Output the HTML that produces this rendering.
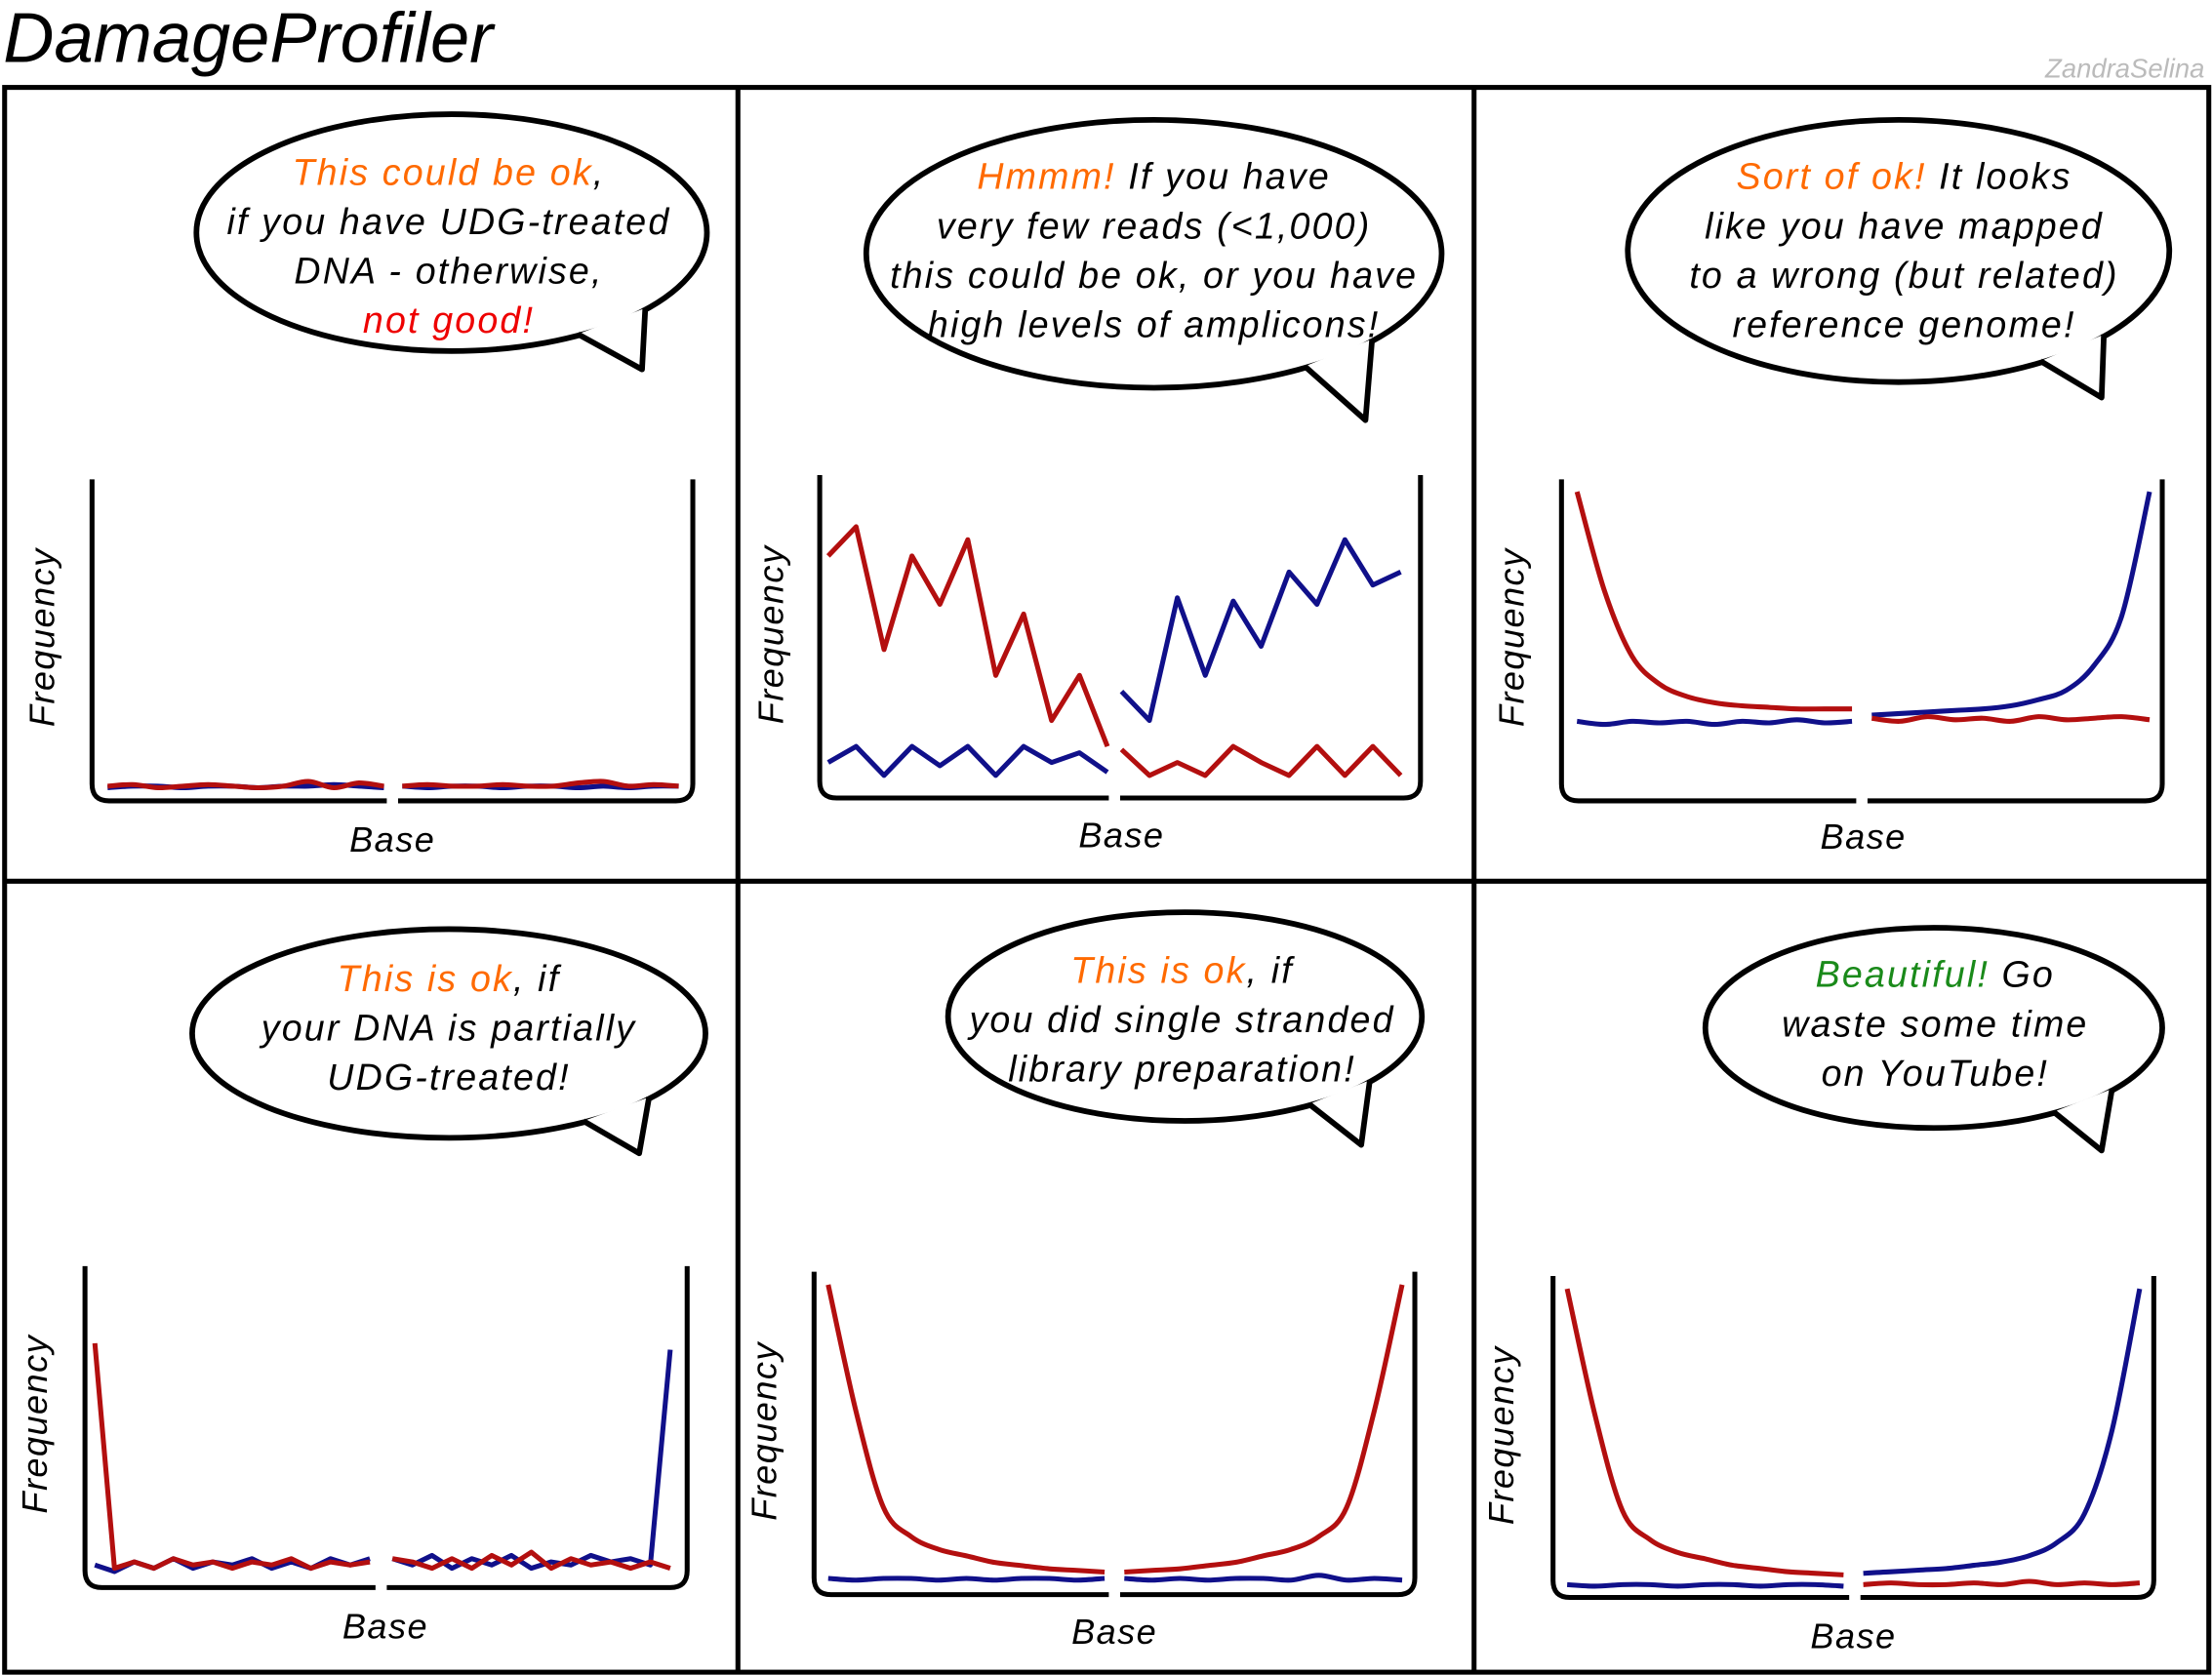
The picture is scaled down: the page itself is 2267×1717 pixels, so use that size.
<!DOCTYPE html>
<html><head><meta charset="utf-8"><style>
html,body{margin:0;padding:0;background:#fff}
svg{display:block}
text{font-family:"Liberation Sans","DejaVu Sans",sans-serif;font-style:italic}
</style></head><body>
<svg id="s" width="2267" height="1717" viewBox="0 0 1568 1188">
<text x="2" y="44" font-size="50" fill="#000">DamageProfiler</text>
<text x="1563" y="55" font-size="19" fill="#bbb" text-anchor="end">ZandraSelina</text>
<g stroke="#000" stroke-width="3.5" fill="none">
<rect x="3" y="62" width="1563" height="1124"/>
<line x1="523" y1="62" x2="523" y2="1186"/>
<line x1="1045" y1="62" x2="1045" y2="1186"/>
<line x1="3" y1="625" x2="1566" y2="625"/>
</g>
<g id="charts"></g>
</svg>
<script>
// Panel data (frequency fraction 0..1), left half and right half
const p1RedL=[0.02,0.025,0.015,0.02,0.025,0.02,0.015,0.02,0.035,0.015,0.03,0.02];
const p1BlueL=[0.015,0.02,0.02,0.015,0.02,0.02,0.015,0.02,0.02,0.025,0.02,0.015];
const p1RedR=[0.02,0.025,0.02,0.02,0.025,0.02,0.02,0.03,0.035,0.02,0.025,0.02];
const p1BlueR=[0.02,0.015,0.02,0.02,0.015,0.02,0.02,0.015,0.02,0.015,0.02,0.02];
const p2RedL=[0.75,0.84,0.46,0.75,0.60,0.80,0.38,0.57,0.24,0.38,0.16];
const p2BlueL=[0.11,0.16,0.07,0.16,0.10,0.16,0.07,0.16,0.11,0.14,0.08];
const p2RedR=[0.15,0.07,0.11,0.07,0.16,0.11,0.07,0.16,0.07,0.16,0.07];
const p2BlueR=[0.33,0.24,0.62,0.38,0.61,0.47,0.70,0.60,0.80,0.66,0.70];
const p3RedL=[0.96,0.64,0.43,0.34,0.30,0.28,0.27,0.265,0.26,0.26,0.26];
const p3BlueL=[0.22,0.21,0.22,0.215,0.22,0.21,0.22,0.215,0.225,0.215,0.22];
const p3RedR=[0.23,0.22,0.235,0.225,0.23,0.22,0.235,0.225,0.23,0.235,0.225];
const p3BlueR=[0.24,0.245,0.25,0.255,0.26,0.27,0.29,0.32,0.40,0.56,0.96];
const p4RedL=[0.76,0.06,0.08,0.06,0.09,0.07,0.08,0.06,0.08,0.07,0.09,0.06,0.08,0.07,0.08];
const p4BlueL=[0.07,0.05,0.08,0.06,0.09,0.06,0.08,0.07,0.09,0.06,0.08,0.06,0.09,0.07,0.09];
const p4RedR=[0.09,0.08,0.06,0.09,0.06,0.10,0.07,0.11,0.06,0.09,0.07,0.08,0.06,0.08,0.06];
const p4BlueR=[0.09,0.07,0.10,0.06,0.09,0.07,0.10,0.06,0.08,0.07,0.10,0.08,0.09,0.07,0.74];
const p5RedL=[0.96,0.57,0.27,0.18,0.14,0.12,0.10,0.09,0.08,0.075,0.07];
const p5BlueL=[0.05,0.045,0.05,0.05,0.045,0.05,0.045,0.05,0.05,0.045,0.05];
const p5RedR=[0.07,0.075,0.08,0.09,0.10,0.12,0.14,0.18,0.27,0.57,0.96];
const p5BlueR=[0.05,0.045,0.05,0.045,0.05,0.05,0.045,0.06,0.045,0.05,0.045];
const p6RedL=[0.96,0.57,0.27,0.18,0.14,0.12,0.10,0.09,0.08,0.075,0.07];
const p6BlueL=[0.04,0.035,0.04,0.04,0.035,0.04,0.04,0.035,0.04,0.04,0.035];
const p6RedR=[0.04,0.045,0.04,0.04,0.045,0.04,0.05,0.04,0.045,0.04,0.045];
const p6BlueR=[0.075,0.08,0.085,0.09,0.10,0.11,0.13,0.17,0.26,0.52,0.96];

const panels=[
 {ax:65,bx:491,top:340,bot:568,z:562,one:340,l0:76,l1:272,r0:285,r1:481,gap:278,smooth:true,d:[p1RedL,p1BlueL,p1RedR,p1BlueR],fx:38,fy:452,bx2:278,by:604},
 {ax:581,bx:1007,top:337,bot:566,z:566,one:337,l0:587,l1:785,r0:795,r1:993,gap:790,smooth:false,d:[p2RedL,p2BlueL,p2RedR,p2BlueR],fx:555,fy:450,bx2:795,by:601},
 {ax:1107,bx:1533,top:340,bot:568,z:560,one:340,l0:1118,l1:1313,r0:1327,r1:1524,gap:1320,smooth:true,d:[p3RedL,p3BlueL,p3RedR,p3BlueR],fx:1080,fy:452,bx2:1321,by:602},
 {ax:60,bx:487,top:898,bot:1126,z:1126,one:898,l0:67,l1:262,r0:278,r1:475,gap:270,smooth:false,d:[p4RedL,p4BlueL,p4RedR,p4BlueR],fx:33,fy:1010,bx2:273,by:1162},
 {ax:577,bx:1003,top:902,bot:1131,z:1131,one:902,l0:587,l1:783,r0:797,r1:994,gap:790,smooth:true,d:[p5RedL,p5BlueL,p5RedR,p5BlueR],fx:550,fy:1015,bx2:790,by:1166},
 {ax:1101,bx:1527,top:905,bot:1133,z:1133,one:905,l0:1111,l1:1307,r0:1321,r1:1517,gap:1315,smooth:true,d:[p6RedL,p6BlueL,p6RedR,p6BlueR],fx:1073,fy:1018,bx2:1314,by:1169}
];
const bubbles=[
 {cx:320,cy:165,rx:181,ry:84,tip:[455,262],t1:40,t2:60,ty:131,tx:318,lines:[[["This could be ok","#ff6a00"],[",","#000"]],[["if you have UDG-treated","#000"]],[["DNA - otherwise,","#000"]],[["not good!","#ee0000"]]]},
 {cx:818,cy:180,rx:204,ry:95,tip:[968,298],t1:40,t2:58,ty:134,tx:818,lines:[[["Hmmm!","#ff6a00"],[" If you have","#000"]],[["very few reads (<1,000)","#000"]],[["this could be ok, or you have","#000"]],[["high levels of amplicons!","#000"]]]},
 {cx:1346,cy:178,rx:192,ry:93,tip:[1490,282],t1:40,t2:58,ty:134,tx:1350,lines:[[["Sort of ok!","#ff6a00"],[" It looks","#000"]],[["like you have mapped","#000"]],[["to a wrong (but related)","#000"]],[["reference genome!","#000"]]]},
 {cx:318,cy:733,rx:182,ry:74,tip:[453,818],t1:38,t2:58,ty:703,tx:318,lines:[[["This is ok","#ff6a00"],[", if","#000"]],[["your DNA is partially","#000"]],[["UDG-treated!","#000"]]]},
 {cx:840,cy:721,rx:168,ry:74,tip:[965,812],t1:38,t2:58,ty:697,tx:838,lines:[[["This is ok","#ff6a00"],[", if","#000"]],[["you did single stranded","#000"]],[["library preparation!","#000"]]]},
 {cx:1371,cy:729,rx:162,ry:71,tip:[1490,816],t1:38,t2:58,ty:700,tx:1372,lines:[[["Beautiful!","#1a8a1a"],[" Go","#000"]],[["waste some time","#000"]],[["on YouTube!","#000"]]]}
];
const NS="http://www.w3.org/2000/svg";
const g=document.getElementById('charts');
function mk(t,attrs,parent){const e=document.createElementNS(NS,t);for(const k in attrs)e.setAttribute(k,attrs[k]);(parent||g).appendChild(e);return e;}
function pathFor(pts,smooth){
 let d="M"+pts[0][0].toFixed(1)+","+pts[0][1].toFixed(1);
 if(!smooth){for(let i=1;i<pts.length;i++)d+=" L"+pts[i][0].toFixed(1)+","+pts[i][1].toFixed(1);return d;}
 for(let i=0;i<pts.length-1;i++){
  const p0=pts[Math.max(0,i-1)],p1=pts[i],p2=pts[i+1],p3=pts[Math.min(pts.length-1,i+2)];
  const c1=[p1[0]+(p2[0]-p0[0])/6,p1[1]+(p2[1]-p0[1])/6],c2=[p2[0]-(p3[0]-p1[0])/6,p2[1]-(p3[1]-p1[1])/6];
  d+=` C${c1[0].toFixed(1)},${c1[1].toFixed(1)} ${c2[0].toFixed(1)},${c2[1].toFixed(1)} ${p2[0].toFixed(1)},${p2[1].toFixed(1)}`;
 }
 return d;
}
panels.forEach((p,i)=>{
 const pg=mk('g',{});
 
 
 const yS=v=>p.z-v*(p.z-p.one);
 const xL=(k,n)=>p.l0+k*(p.l1-p.l0)/(n-1);
 const xR=(k,n)=>p.r0+k*(p.r1-p.r0)/(n-1);
 const r=12;
 const axis=mk('path',{d:`M${p.ax},${p.top} L${p.ax},${p.bot-r} Q${p.ax},${p.bot} ${p.ax+r},${p.bot} L${p.gap-4},${p.bot} M${p.gap+4},${p.bot} L${p.bx-r},${p.bot} Q${p.bx},${p.bot} ${p.bx},${p.bot-r} L${p.bx},${p.top}`,fill:'none',stroke:'#000','stroke-width':3.5},pg);
 
 
 const series=[[p.d[1],xL,'#10108a','blue-left'],[p.d[0],xL,'#b30f0f','red-left'],[p.d[3],xR,'#10108a','blue-right'],[p.d[2],xR,'#b30f0f','red-right']];
 series.forEach(s=>{
  const arr=s[0],n=arr.length;
  const pts=arr.map((v,k)=>[s[1](k,n),yS(v)]);
  const el=mk('path',{d:pathFor(pts,p.smooth),fill:'none',stroke:s[2],'stroke-width':3.5,'stroke-linejoin':'round'},pg);
  
  
 });
 const fq=mk('text',{x:p.fx,y:p.fy,'font-size':25,'text-anchor':'middle',transform:`rotate(-90 ${p.fx} ${p.fy})`,'letter-spacing':1},pg);
 fq.textContent='Frequency';
 
 
 const bs=mk('text',{x:p.bx2,y:p.by,'font-size':25,'text-anchor':'middle','letter-spacing':1},pg);
 bs.textContent='Base';
 
 
});
bubbles.forEach((b,i)=>{
 const bg=mk('g',{});
 
 
 const ep=(t,f)=>{const a=t*Math.PI/180;return [b.cx+b.rx*f*Math.cos(a),b.cy+b.ry*f*Math.sin(a)];};
 mk('ellipse',{cx:b.cx,cy:b.cy,rx:b.rx,ry:b.ry,fill:'#fff',stroke:'#000','stroke-width':4},bg);
 const A=ep(b.t1,0.99),B=ep(b.t2,0.99);
 mk('path',{d:`M${A[0].toFixed(1)},${A[1].toFixed(1)} L${b.tip[0]},${b.tip[1]} L${B[0].toFixed(1)},${B[1].toFixed(1)}`,fill:'#fff',stroke:'#000','stroke-width':4,'stroke-linejoin':'round'},bg);
 b.lines.forEach((ln,j)=>{
  const t=mk('text',{x:b.tx,y:b.ty+j*35,'font-size':26,'text-anchor':'middle','letter-spacing':1.5},bg);
  
  
  ln.forEach(seg=>{const ts=mk('tspan',{fill:seg[1]},t);ts.textContent=seg[0];});
 });
});
</script>
</body></html>
